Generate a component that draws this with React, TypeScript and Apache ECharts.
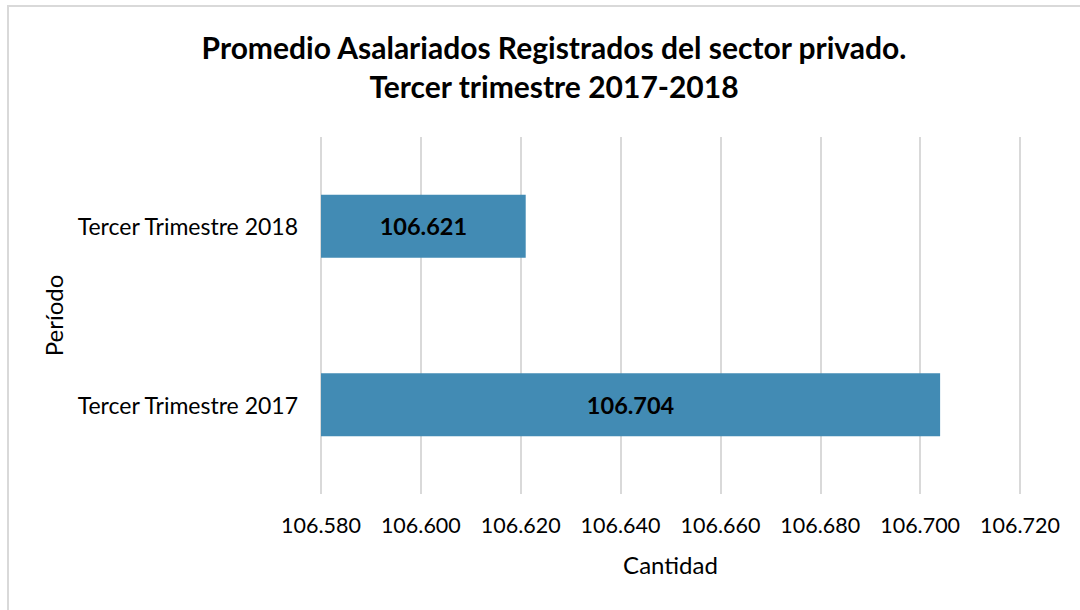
import React, { useEffect, useRef } from "react";
import * as echarts from "echarts";

const categories = ["Tercer Trimestre 2017", "Tercer Trimestre 2018"];
const values = [106704, 106621];
const titleLines = ["Promedio Asalariados Registrados del sector privado.", "Tercer trimestre 2017-2018"];
const xAxisName = "Cantidad";
const yAxisName = "Período";

const fmt = (v: number) => {
  const s = Math.round(v).toString();
  return s.replace(/\B(?=(\d{3})+(?!\d))/g, ".");
};

export default function App() {
  const ref = useRef<HTMLDivElement>(null);
  useEffect(() => {
    if (!ref.current) return;
    const chart = echarts.init(ref.current, null, { renderer: "svg" });
    const font = "Lato, 'Noto Sans', sans-serif";
    chart.setOption({
      animation: false,
      backgroundColor: "#ffffff",
      textStyle: { fontFamily: font },
      title: {
        text: titleLines.join("\n"),
        left: 549,
        textAlign: "center",
        top: 22,
        textStyle: { fontFamily: font, fontSize: 30, fontWeight: "bold", color: "#000", lineHeight: 39 },
      },
      graphic: [
        {
          type: "rect",
          shape: { x: 8, y: 6, width: 1100, height: 700 },
          style: { fill: "none", stroke: "#d9d9d9", lineWidth: 2 },
          silent: true,
        },
      ],
      grid: { left: 321, right: 60, top: 137, bottom: 116, containLabel: false },
      xAxis: {
        type: "value",
        min: 106580,
        max: 106720,
        interval: 20,
        name: xAxisName,
        nameLocation: "middle",
        nameGap: 58,
        nameTextStyle: { fontFamily: font, fontSize: 24, color: "#000" },
        axisLine: { show: false },
        axisTick: { show: false },
        axisLabel: { fontFamily: font, fontSize: 21.5, color: "#000", margin: 20, formatter: (v: number) => fmt(v) },
        splitLine: { show: true, lineStyle: { color: "#d9d9d9", width: 2 } },
      },
      yAxis: {
        type: "category",
        data: categories,
        name: yAxisName,
        nameLocation: "middle",
        nameGap: 249,
        nameRotate: 90,
        nameTextStyle: { fontFamily: font, fontSize: 24, color: "#000" },
        axisLine: { show: false },
        axisTick: { show: false },
        axisLabel: { fontFamily: font, fontSize: 23, color: "#000", margin: 23 },
        splitLine: { show: false },
      },
      series: [
        {
          type: "bar",
          data: values,
          barWidth: 63,
          itemStyle: { color: "#428bb4" },
          label: {
            show: true,
            position: "inside",
            fontFamily: font,
            fontSize: 23.5,
            fontWeight: "bold",
            color: "#000",
            formatter: (p: any) => fmt(p.value),
          },
        },
      ],
    });
    return () => chart.dispose();
  }, []);
  return <div ref={ref} style={{ position: "fixed", left: 0, top: 0, width: 1080, height: 610 }} />;
}
